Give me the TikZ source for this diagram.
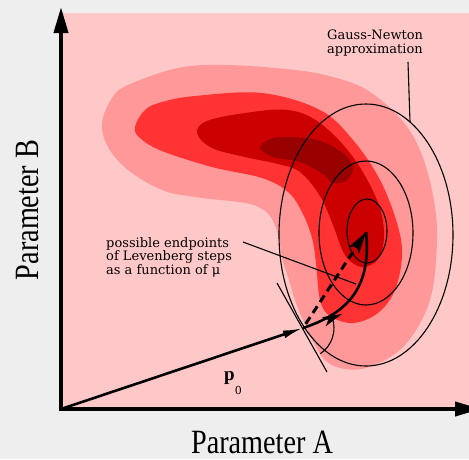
\documentclass[tikz,border=0pt]{standalone}
\usepackage{fontspec}
\setmainfont{DejaVu Serif}
\newfontfamily\axisfont{Liberation Serif}
\usetikzlibrary{arrows.meta}
\definecolor{bggray}{RGB}{238,238,238}
\definecolor{pinkbg}{RGB}{255,200,200}
\definecolor{lvlA}{RGB}{255,153,153}
\definecolor{lvlB}{RGB}{255,51,51}
\definecolor{lvlC}{RGB}{204,0,0}
\definecolor{lvlD}{RGB}{153,0,0}
\begin{document}
\begin{tikzpicture}[x=1pt,y=-1pt,
  thinline/.style={line width=1.1pt},
  axisline/.style={line width=4pt,line join=miter,{Triangle[length=26pt,width=14pt]}-{Triangle[length=26pt,width=14pt]}},
  vecline/.style={line width=2.6pt},
  lbl/.style={inner sep=0pt,font=\fontsize{13}{13}\selectfont},
  axlbl/.style={inner sep=0pt,font=\axisfont\fontsize{34}{34}\selectfont},
  blob/.style={smooth cycle,tension=0.6}]
\useasboundingbox (0,0) rectangle (469,459);
\clip (0,0) rectangle (469,459);
\fill[bggray] (0,0) rectangle (469,459);
\fill[pinkbg] (61,13) rectangle (469,409);
% contour levels
\fill[lvlA] plot[blob] coordinates {(102,123) (112,98) (128,85) (178,68) (228,65) (295,70) (333,77) (367,90) (400,118) (420,150) (433,195) (437,240) (430,300) (405,345) (372,366) (345,369) (323,358) (304,322) (295,300) (289,280) (282,258) (279,238) (272,219) (262,209) (245,203) (195,197) (162,190) (128,170) (108,147)};
\fill[lvlB] plot[blob] coordinates {(135,127) (145,110) (162,102) (195,96) (262,93) (320,110) (353,140) (380,180) (397,223) (402,255) (395,290) (378,313) (353,323) (330,316) (320,300) (316,263) (312,238) (302,212) (288,192) (262,178) (212,167) (162,151) (140,138)};
\fill[lvlC] plot[blob] coordinates {(197,133) (207,121) (245,113) (288,110) (320,123) (353,157) (377,200) (384,232) (379,258) (362,267) (345,255) (333,225) (320,196) (300,172) (278,164) (245,157) (212,148)};
\fill[lvlD] plot[blob] coordinates {(260,148) (268,140) (283,137) (317,140) (343,153) (353,167) (347,180) (333,183) (323,174) (300,162) (273,157)};
% Gauss-Newton ellipses
\draw[thinline] (366,235) ellipse [x radius=87, y radius=131];
\draw[thinline] (366,233) ellipse [x radius=47, y radius=72];
\draw[thinline] (367,231) ellipse [x radius=20, y radius=32];
% key points
\coordinate (O) at (61,409);
\coordinate (Btop) at (61,7);
\coordinate (Aend) at (481,409);
\coordinate (S) at (64,408);
\coordinate (P) at (303,328);
\coordinate (C) at (366,232);
\coordinate (T1) at (277,283);
\coordinate (T2) at (327,372);
\coordinate (L1) at (243,242);
\coordinate (L2) at (356,284);
\coordinate (G1) at (408,62);
\coordinate (G2) at (410,122);
\coordinate (HT) at (342,314);
\coordinate (HW1) at (325.6,326.4);
\coordinate (HN) at (328.2,319.9);
\coordinate (HW2) at (321.7,317.2);
% axes
\draw[axisline] (Btop) -- (O) -- (Aend);
% tangent and step-size arc
\draw[thinline] (T1) -- (T2);
\draw[thinline] ([shift={(56:31)}]P) arc[start angle=56,end angle=-21,radius=31];
% vectors
\draw[vecline,-{Latex[length=20pt,width=8pt]}] (S) -- (P);
\draw[line width=3pt,dash pattern=on 8pt off 5pt,dash phase=8pt,-{Stealth[length=22pt,width=12pt,inset=5pt]}] (P) -- (C);
\draw[vecline] (P) .. controls (345,314) and (372,290) .. (C);
\fill[black] (HT) -- (HW1) -- (HN) -- (HW2) -- cycle;
% leaders
\draw[thinline] (L1) -- (L2);
\draw[thinline] (G1) -- (G2);
% labels
\node[lbl,anchor=base west] (gn1) at (327,39) {Gauss-Newton};
\node[lbl,anchor=base west] (gn2) at (327,53) {approximation};
\node[lbl,anchor=base west] (pe1) at (106,247) {possible endpoints};
\node[lbl,anchor=base west] (pe2) at (106,260) {of Levenberg steps};
\node[lbl,anchor=base west] (pe3) at (106,274) {as a function of μ};
\node[inner sep=0pt,anchor=base west,font=\axisfont\fontsize{19}{19}\selectfont\bfseries] (p0) at (224,380) {p\raisebox{-14pt}{\rmfamily\mdseries\fontsize{11}{11}\selectfont 0}};
\node[axlbl,anchor=base] (pa) at (262,453) {\scalebox{0.83}[1]{Parameter A}};
\node[axlbl,anchor=base,rotate=90] (pb) at (38,210) {\scalebox{0.83}[1]{Parameter B}};
\end{tikzpicture}
\end{document}
